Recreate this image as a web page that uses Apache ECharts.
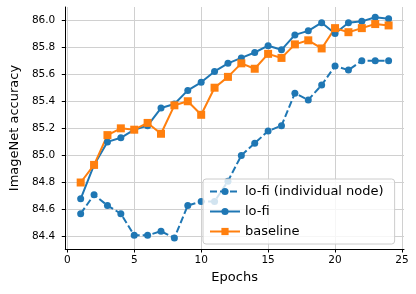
<!DOCTYPE html>
<html><head><meta charset="utf-8">
<script src="https://cdn.jsdelivr.net/npm/echarts@6/dist/echarts.min.js"></script>
<style>html,body{margin:0;padding:0;background:#fff}#c{width:416px;height:294px}</style>
</head><body><div id="c"></div>
<script>
const epochs = [1,2,3,4,5,6,7,8,9,10,11,12,13,14,15,16,17,18,19,20,21,22,23,24];
const lofiNode = [84.57,84.71,84.63,84.57,84.41,84.41,84.44,84.39,84.63,84.66,84.66,84.81,85.00,85.09,85.18,85.22,85.46,85.41,85.52,85.66,85.63,85.70,85.70,85.70];
const lofi = [84.68,84.93,85.10,85.13,85.19,85.22,85.35,85.38,85.48,85.54,85.62,85.68,85.72,85.76,85.81,85.78,85.89,85.92,85.98,85.90,85.98,85.99,86.02,86.01];
const baseline = [84.80,84.93,85.15,85.20,85.19,85.24,85.16,85.37,85.40,85.30,85.50,85.58,85.68,85.64,85.75,85.72,85.82,85.85,85.79,85.94,85.91,85.94,85.97,85.96];
const xTicks = [0,5,10,15,20,25];
const yTicks = [84.4,84.6,84.8,85.0,85.2,85.4,85.6,85.8,86.0];
const names = ['lo-fi (individual node)','lo-fi','baseline'];

const pair = a => a.map((v,i)=>[epochs[i], v]);
const blue = '#1f77b4', orange = '#ff7f0e';
const font = 'DejaVu Sans';
const chart = echarts.init(document.getElementById('c'), null, {renderer:'canvas'});
chart.setOption({
  animation:false,
  backgroundColor:'#fff',
  textStyle:{fontFamily:font},
  grid:{left:59,right:12,top:7,bottom:45,containLabel:false},
  xAxis:{type:'value',min:-0.15,max:25.15,
    name:'Epochs',nameLocation:'middle',nameGap:22,
    nameTextStyle:{fontFamily:font,fontSize:13,color:'#000'},
    axisLine:{show:true,onZero:false,lineStyle:{color:'#000',width:1}},
    axisTick:{show:true,length:3.5,customValues:xTicks,lineStyle:{color:'#000'}},
    axisLabel:{customValues:xTicks,margin:6,fontFamily:font,fontSize:10.5,color:'#000'},
    splitLine:{show:true,lineStyle:{color:'#d0d0d0',width:1}}
  },
  yAxis:{type:'value',min:84.309,max:86.096,
    name:'ImageNet accuracy',nameLocation:'middle',nameGap:39,
    nameTextStyle:{fontFamily:font,fontSize:13,color:'#000'},
    axisLine:{show:true,onZero:false,lineStyle:{color:'#000',width:1}},
    axisTick:{show:true,length:3.5,customValues:yTicks,lineStyle:{color:'#000'}},
    axisLabel:{customValues:yTicks,margin:10,fontFamily:font,fontSize:10.5,color:'#000',formatter:v=>v.toFixed(1)},
    splitLine:{show:true,lineStyle:{color:'#d0d0d0',width:1}}
  },
  legend:{orient:'vertical',left:203,top:179,padding:[5,11,5,6],itemGap:5,itemWidth:30,itemHeight:9,
    backgroundColor:'rgba(255,255,255,0.8)',borderColor:'#cccccc',borderWidth:1,borderRadius:3,
    textStyle:{fontFamily:font,fontSize:13,color:'#000',lineHeight:15},
    data:names},
  series:[
    {name:names[0],type:'line',data:pair(lofiNode),symbol:'circle',symbolSize:7,
     lineStyle:{color:blue,width:2,type:[7,3]},itemStyle:{color:blue}},
    {name:names[1],type:'line',data:pair(lofi),symbol:'circle',symbolSize:7,
     lineStyle:{color:blue,width:2},itemStyle:{color:blue}},
    {name:names[2],type:'line',data:pair(baseline),symbol:'rect',symbolSize:8,
     lineStyle:{color:orange,width:2},itemStyle:{color:orange}}
  ]
});
</script></body></html>
